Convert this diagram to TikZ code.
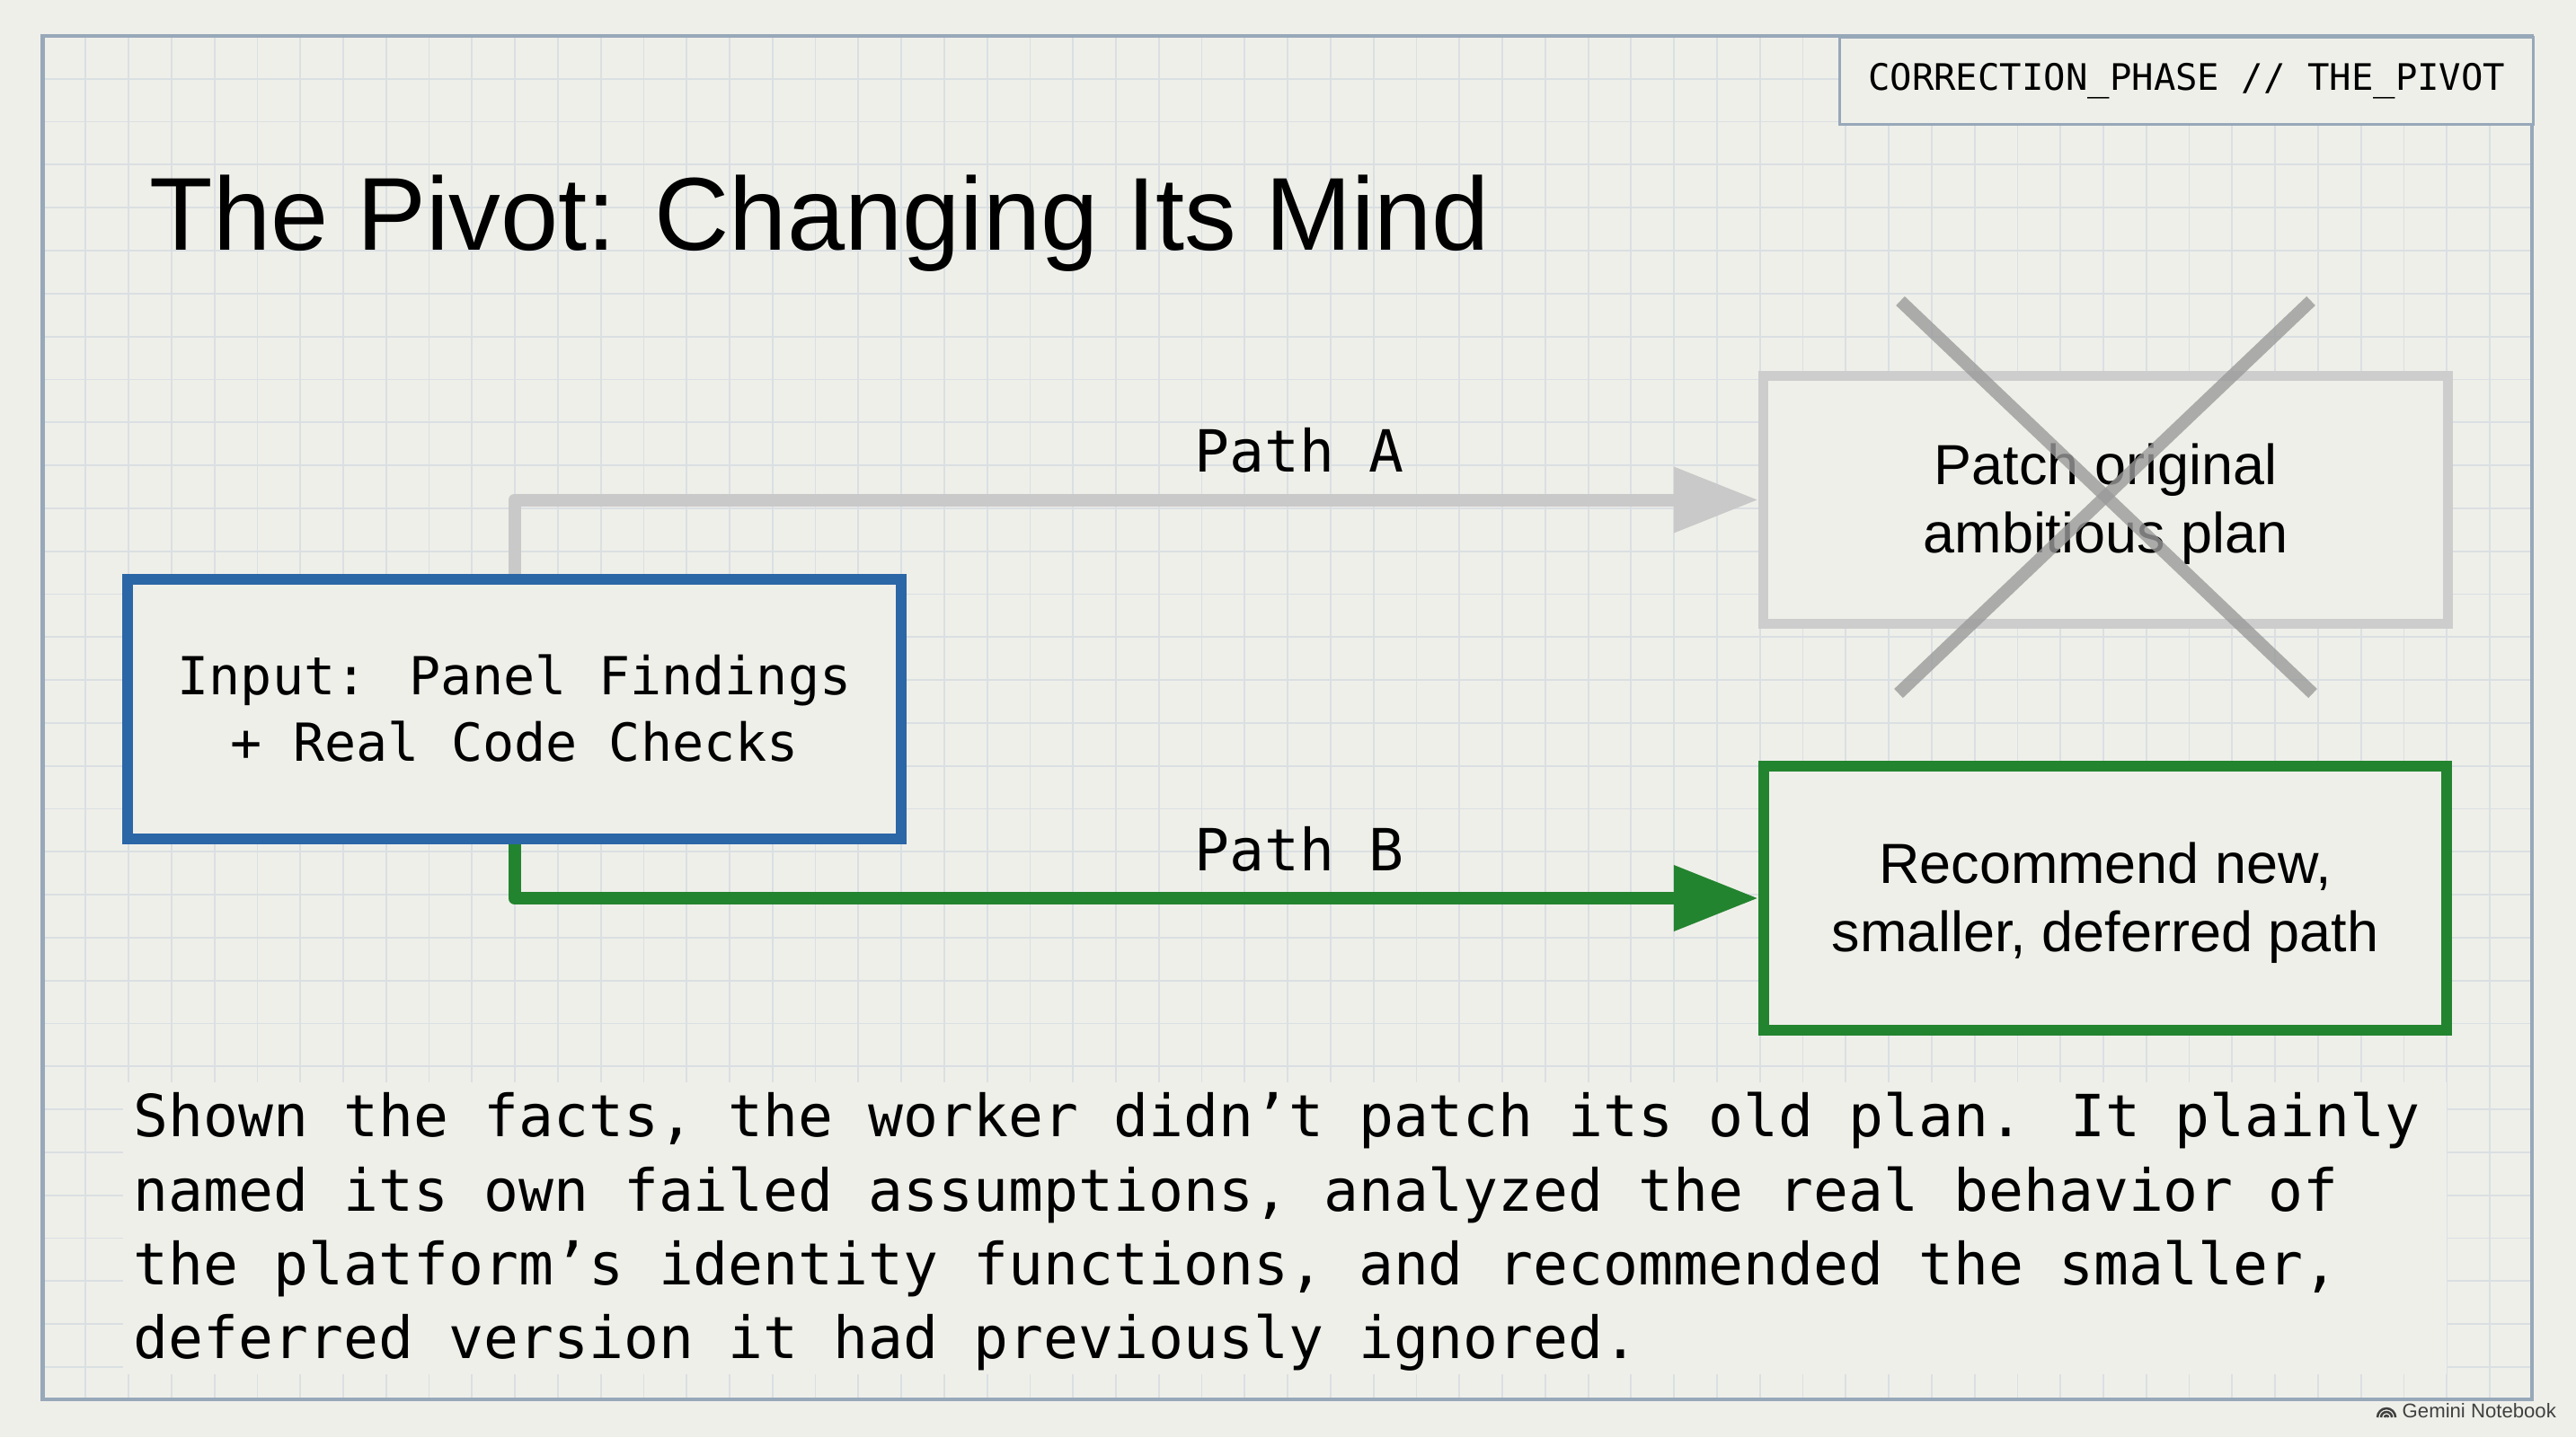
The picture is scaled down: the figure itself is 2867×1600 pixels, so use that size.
\documentclass[tikz,border=0pt]{standalone}
\usepackage{fontspec}
\setmainfont{Liberation Sans}
\newfontfamily\monof{DejaVu Sans Mono}
\usetikzlibrary{arrows.meta}
\definecolor{bg}{HTML}{EFEFEA}
\definecolor{gridc}{HTML}{DADFE2}
\definecolor{framec}{HTML}{97A8B9}
\definecolor{blueb}{HTML}{2B66A6}
\definecolor{greenb}{HTML}{23842F}
\definecolor{grayarrow}{HTML}{C9C9C9}
\definecolor{graybox}{HTML}{CDCDCD}
\definecolor{crossc}{HTML}{9A9A9A}
\begin{document}
\begin{tikzpicture}[x=0.01cm,y=-0.01cm,
  box/.style={draw, fill=bg, inner sep=0pt},
  inbox/.style={box, draw=blueb, line width=0.12cm, minimum width=8.61cm, minimum height=2.89cm},
  oldbox/.style={box, draw=graybox, line width=0.11cm, minimum width=7.62cm, minimum height=2.76cm},
  newbox/.style={box, draw=greenb, line width=0.12cm, minimum width=7.60cm, minimum height=2.94cm},
  monotext/.style={inner sep=0pt, align=center, font=\monof\fontsize{16.6}{21}\selectfont},
  sanstext/.style={inner sep=0pt, align=center, font=\fontsize{17.9}{21.5}\selectfont},
  conn/.style={line width=0.14cm, line join=round, -{Triangle[length=0.94cm,width=0.70cm]}},
  pathlabel/.style={font=\monof\fontsize{18.4}{22}\selectfont, inner sep=0pt, anchor=base},
  bodyline/.style={font=\monof\fontsize{18.4}{23.4}\selectfont, inner sep=0pt, anchor=base west},
  crossline/.style={draw=crossc, line width=0.14cm, opacity=0.8},
  gridline/.style={draw=gridc, line width=0.018cm}
]
\useasboundingbox (0,0) rectangle (2867,1600);
\fill[bg] (0,0) rectangle (2867,1600);
% grid
\begin{scope}
\clip (47.5,40) rectangle (2818,1558);
\foreach \i in {1,...,58} \draw[gridline] ({47.5+\i*47.78},40) -- ({47.5+\i*47.78},1558);
\foreach \j in {1,...,32} \draw[gridline] (47.5,{40+\j*47.8}) -- (2818,{40+\j*47.8});
\end{scope}
\draw[framec, line width=0.04cm] (47.5,40) rectangle (2818,1558);
% tag
\node[draw=framec, fill=bg, line width=0.03cm, minimum width=7.72cm, minimum height=0.97cm, inner sep=0pt, anchor=north west, font=\monof\fontsize{11.55}{14}\selectfont] (tag) at (2046,40) {CORRECTION\_PHASE // THE\_PIVOT};
% text fill
\fill[bg] (137,1205) rectangle (2723,1530);
% title
\node[anchor=base west, inner sep=0pt, font=\fontsize{32.8}{40}\selectfont] (title) at (166,278) {The Pivot: Changing Its Mind};
% boxes
\node[inbox] (in) at (572.5,789.5) {};
\node[oldbox] (old) at (2343.5,556.5) {};
\node[newbox] (new) at (2343,1000) {};
\node[monotext] (intext) at ([yshift=0.01cm]in.center) {Input: Panel Findings\\+ Real Code Checks};
\node[sanstext] (oldtext) at ([yshift=-0.05cm]old.center) {Patch original\\ambitious plan};
\node[sanstext] (newtext) at ([yshift=-0.05cm]new.center) {Recommend new,\\smaller, deferred path};
% connectors
\draw[conn, color=grayarrow] (in.north) |- (old.west);
\draw[conn, color=greenb] (in.south) |- (new.west);
% cross
\draw[crossline] (2115,335) -- (2574,772);
\draw[crossline] (2572,335) -- (2113,772);
% labels
\node[pathlabel] (la) at (1446,525) {Path A};
\node[pathlabel] (lb) at (1446,969) {Path B};
% body
\node[bodyline] (t1) at (148,1265) {Shown the facts, the worker didn’t patch its old plan. It plainly};
\node[bodyline] (t2) at (148,1348) {named its own failed assumptions, analyzed the real behavior of};
\node[bodyline] (t3) at (148,1430) {the platform’s identity functions, and recommended the smaller,};
\node[bodyline] (t4) at (148,1512) {deferred version it had previously ignored.};
% watermark
\draw[black!75, line width=0.025cm] (2646,1578) arc[start angle=180, end angle=360, radius=10];
\draw[black!75, line width=0.025cm] (2650,1578) arc[start angle=180, end angle=360, radius=6];
\draw[black!75, line width=0.025cm] (2654,1578) arc[start angle=180, end angle=360, radius=2];
\node[anchor=base west, inner sep=0pt, font=\fontsize{6.3}{7}\selectfont, text=black!75] (wm) at (2673,1578) {Gemini Notebook};
\end{tikzpicture}
\end{document}
